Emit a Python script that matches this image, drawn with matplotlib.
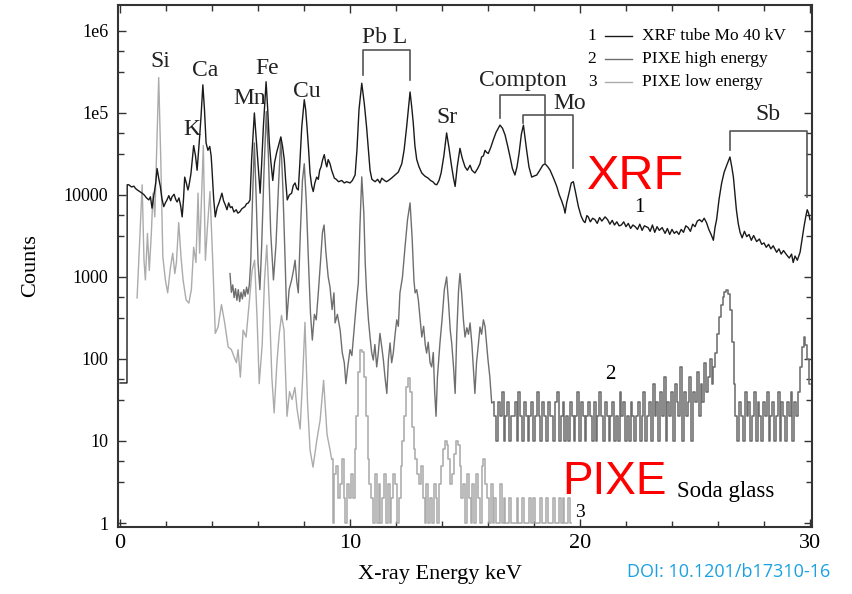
import matplotlib
matplotlib.use('Agg')
import matplotlib.pyplot as plt
import numpy as np
from matplotlib.ticker import FixedLocator, FixedFormatter

plt.rcParams['font.family'] = 'Liberation Serif'

# curve 1 : XRF tube Mo 40 kV (energy keV, counts)
xrf_kev = [0.00, 0.30, 0.31, 0.38, 0.50, 0.60, 0.67, 0.75, 0.85, 0.96, 1.05, 1.15, 1.25, 1.32, 1.39,
           1.46, 1.55, 1.61, 1.68, 1.75, 1.82, 1.90, 1.97, 2.04, 2.12, 2.20, 2.26, 2.35, 2.42, 2.48,
           2.56, 2.63, 2.70, 2.76, 2.81, 2.88, 2.95, 2.99, 3.08, 3.20, 3.28, 3.35, 3.45, 3.52, 3.60,
           3.67, 3.74, 3.82, 3.90, 3.96, 4.00, 4.07, 4.14, 4.22, 4.30, 4.43, 4.50, 4.58, 4.65, 4.72,
           4.80, 4.87, 4.95, 5.05, 5.12, 5.20, 5.30, 5.43, 5.50, 5.58, 5.65, 5.72, 5.84, 5.93, 5.99,
           6.09, 6.16, 6.23, 6.35, 6.42, 6.49, 6.56, 6.64, 6.72, 6.81, 6.99, 7.06, 7.14, 7.20, 7.27,
           7.36, 7.46, 7.53, 7.61, 7.68, 7.75, 7.82, 7.90, 8.01, 8.07, 8.13, 8.20, 8.26, 8.33, 8.40,
           8.47, 8.55, 8.62, 8.68, 8.74, 8.81, 8.88, 8.95, 8.99, 9.05, 9.13, 9.20, 9.32, 9.40, 9.50,
           9.64, 9.75, 9.85, 10.00, 10.10, 10.22, 10.30, 10.39, 10.51, 10.62, 10.72, 10.80, 10.87, 10.95, 11.09,
           11.20, 11.30, 11.38, 11.50, 11.58, 11.67, 11.80, 11.96, 12.10, 12.25, 12.35, 12.46, 12.61, 12.68, 12.75,
           12.82, 12.90, 13.00, 13.12, 13.25, 13.40, 13.50, 13.60, 13.70, 13.77, 13.87, 13.96, 14.08, 14.20, 14.30,
           14.42, 14.50, 14.57, 14.66, 14.78, 14.88, 15.00, 15.10, 15.22, 15.30, 15.43, 15.55, 15.65, 15.72, 15.80,
           15.87, 15.94, 16.01, 16.12, 16.23, 16.35, 16.52, 16.63, 16.74, 16.85, 16.96, 17.06, 17.17, 17.26, 17.35,
           17.45, 17.54, 17.61, 17.68, 17.78, 17.90, 18.00, 18.12, 18.25, 18.38, 18.48, 18.60, 18.70, 18.85, 18.99,
           19.10, 19.20, 19.30, 19.35, 19.42, 19.52, 19.62, 19.71, 19.80, 19.93, 20.05, 20.15, 20.22, 20.30, 20.36,
           20.45, 20.55, 20.65, 20.75, 20.85, 20.95, 21.09, 21.20, 21.30, 21.40, 21.50, 21.60, 21.70, 21.80, 21.90,
           22.00, 22.10, 22.20, 22.30, 22.40, 22.50, 22.60, 22.70, 22.80, 22.96, 23.05, 23.15, 23.25, 23.35, 23.45,
           23.57, 23.70, 23.80, 23.90, 24.00, 24.10, 24.20, 24.30, 24.40, 24.50, 24.60, 24.70, 24.80, 24.90, 25.00,
           25.10, 25.20, 25.30, 25.40, 25.50, 25.60, 25.70, 25.80, 25.87, 25.94, 26.05, 26.16, 26.27, 26.38, 26.52,
           26.60, 26.67, 26.74, 26.80, 26.88, 26.96, 27.05, 27.15, 27.25, 27.35, 27.45, 27.55, 27.68, 27.80, 27.90,
           28.00, 28.10, 28.20, 28.30, 28.40, 28.55, 28.65, 28.75, 28.85, 28.99, 29.10, 29.20, 29.27, 29.35, 29.45,
           29.57, 29.65, 29.74, 29.82, 29.88, 29.94, 30.00]
xrf_counts = [51, 51, 13300, 13300, 12500, 12800, 12000, 11500, 11000, 10500, 10000, 9200, 8700, 9500, 6900,
              9500, 14000, 21000, 16000, 12700, 9000, 7200, 8000, 8700, 9800, 8500, 9500, 10200, 8800, 8200,
              9200, 7500, 5400, 9000, 16500, 14000, 11500, 12700, 18000, 40000, 30000, 20000, 47000, 90000, 220000,
              110000, 43000, 35000, 39000, 30000, 20000, 9000, 5400, 7000, 8000, 10500, 8500, 7500, 6600, 8000,
              7000, 7200, 6200, 6600, 6000, 6200, 6800, 7200, 7800, 8000, 8700, 27000, 100000, 45000, 27000,
              10500, 25000, 67000, 240000, 110000, 43000, 25000, 15000, 25000, 33000, 51000, 40000, 27000, 15000, 8700,
              10000, 10500, 13000, 14000, 12000, 11500, 25000, 67000, 145000, 110000, 67000, 35000, 18500, 13000, 11000,
              14000, 16500, 15500, 20000, 22000, 27000, 31000, 24000, 22000, 27000, 24000, 20000, 16000, 15500, 14500,
              15000, 14000, 14500, 14000, 15000, 17500, 35000, 110000, 230000, 130000, 67000, 35000, 20000, 15500, 14500,
              15500, 14000, 16000, 15000, 14500, 15000, 16000, 17500, 19000, 24000, 35000, 67000, 180000, 120000, 75000,
              40000, 27000, 22000, 18500, 17000, 16000, 15000, 14500, 13500, 13300, 15000, 18500, 30000, 57000, 38000,
              22000, 16000, 12700, 22000, 37000, 28000, 22000, 20000, 23000, 20000, 18500, 21000, 24000, 29000, 30000,
              35000, 33000, 32000, 38000, 47000, 58000, 71000, 65000, 54000, 40000, 29000, 21000, 17500, 22000, 32000,
              55000, 71000, 50000, 35000, 22000, 16500, 17000, 17500, 20000, 23000, 24000, 22000, 20000, 16000, 12700,
              10000, 8500, 7000, 6000, 8000, 10500, 14000, 14500, 11000, 7200, 5500, 4800, 4600, 5600, 5400,
              4700, 5200, 5000, 4500, 5300, 4800, 5400, 5000, 4400, 4900, 4300, 4700, 4200, 4300, 4700,
              4100, 4500, 3900, 4300, 4100, 3800, 4400, 3700, 4200, 4000, 3600, 4300, 3500, 4100, 3700,
              4000, 3400, 3900, 3300, 3800, 3400, 3600, 3300, 3800, 3500, 4200, 4000, 3600, 4400, 4100,
              4800, 5000, 4700, 5200, 4600, 3800, 3300, 2800, 4000, 5000, 9000, 14000, 19000, 23000, 29000,
              22000, 16500, 10000, 6600, 4500, 3500, 3000, 3600, 3100, 3300, 2800, 3200, 2700, 2900, 2500,
              2600, 2300, 2500, 2200, 2400, 2000, 2200, 1900, 2100, 1850, 1700, 1900, 1500, 1800, 1600,
              2000, 2800, 4100, 5500, 6600, 6000, 5000]

# curve 2 : PIXE high energy, peak region (keV, counts)
pixe_hi_kev = [4.78, 4.84, 4.90, 4.96, 5.02, 5.08, 5.14, 5.20, 5.26, 5.32, 5.38, 5.44, 5.50, 5.56, 5.62,
               5.68, 5.76, 5.84, 5.92, 6.00, 6.08, 6.16, 6.26, 6.36, 6.45, 6.55, 6.67, 6.78, 6.90, 6.99,
               7.08, 7.18, 7.25, 7.35, 7.46, 7.54, 7.61, 7.68, 7.75, 7.84, 7.93, 8.01, 8.10, 8.19, 8.28,
               8.36, 8.45, 8.53, 8.62, 8.72, 8.80, 8.87, 8.95, 9.05, 9.13, 9.22, 9.30, 9.35, 9.45, 9.57,
               9.66, 9.75, 9.82, 9.90, 10.00, 10.08, 10.16, 10.28, 10.36, 10.43, 10.51, 10.60, 10.66, 10.72, 10.80,
               10.87, 10.94, 11.01, 11.08, 11.16, 11.23, 11.30, 11.38, 11.45, 11.52, 11.60, 11.67, 11.74, 11.81, 11.88,
               11.96, 12.03, 12.10, 12.17, 12.28, 12.39, 12.50, 12.61, 12.70, 12.78, 12.83, 12.90, 12.97, 13.05, 13.12,
               13.20, 13.27, 13.33, 13.40, 13.48, 13.55, 13.62, 13.68, 13.74, 13.80, 13.86, 13.91, 14.00, 14.10, 14.20,
               14.28, 14.36, 14.42, 14.50, 14.57, 14.64, 14.72, 14.78, 14.86, 14.93, 15.00, 15.08, 15.15, 15.22, 15.30,
               15.36, 15.43, 15.50, 15.58, 15.65, 15.72, 15.80, 15.87, 15.94, 16.00, 16.08, 16.16]
pixe_hi_counts = [1100, 650, 800, 560, 720, 520, 700, 500, 650, 540, 700, 580, 750, 620, 800,
                  1500, 9000, 43000, 9000, 1500, 700, 2500, 20000, 104000, 30000, 3500, 920, 2500, 15000, 49000,
                  12000, 1500, 300, 700, 920, 1200, 1600, 900, 640, 3500, 15000, 24000, 8000, 1600, 360,
                  170, 350, 300, 640, 1600, 3500, 4300, 2000, 1000, 750, 400, 640, 275, 350, 225,
                  120, 90, 50, 80, 130, 110, 200, 500, 840, 4100, 16600, 6000, 1500, 640, 300,
                  185, 120, 97, 150, 80, 120, 205, 140, 97, 60, 38, 100, 157, 90, 118,
                  200, 300, 250, 640, 1000, 2300, 5000, 8000, 3000, 900, 640, 700, 525, 300, 185,
                  250, 150, 118, 160, 90, 80, 120, 40, 20, 60, 100, 157, 300, 700, 1000,
                  500, 220, 157, 80, 38, 200, 700, 1100, 600, 300, 185, 240, 200, 275, 150,
                  80, 38, 90, 150, 245, 200, 300, 250, 150, 97, 60, 29]
# curve 2 : channels of 0.08 keV from 16.24 to 30.0 keV
pixe_hi_chan = [30, 20, 10, 30, 20, 40, 10, 20, 30, 10, 20, 20, 30, 10, 40, 20, 10, 30, 20, 10,
                20, 30, 10, 20, 40, 20, 10, 30, 20, 10, 30, 20, 20, 10, 30, 40, 10, 20, 30, 10,
                20, 10, 30, 20, 10, 20, 40, 10, 30, 20, 10, 20, 30, 20, 10, 30, 10, 20, 40, 20,
                10, 30, 20, 10, 20, 30, 10, 20, 10, 40, 20, 30, 10, 20, 10, 30, 20, 10, 20, 30,
                10, 20, 40, 10, 20,
                30, 10, 50, 20, 30, 10, 40, 20, 60, 10, 30, 20, 40, 10, 50, 30, 20, 80, 10, 40,
                20, 30, 60, 10, 40, 30, 70, 20, 50, 30, 90, 40, 60, 100, 50, 80,
                118, 200, 325, 450, 570, 650, 700, 620, 400, 160, 50, 20,
                10, 30, 20, 10, 40, 20, 30, 10, 20, 40, 10, 30, 20, 10, 30, 20, 40, 10, 20, 30,
                10, 20, 40, 10, 30, 20, 10, 30, 20, 40, 10, 30, 20,
                40, 80, 140, 185, 150, 100, 50]

# curve 3 : PIXE low energy, peak region (keV, counts)
pixe_lo_kev = [0.74, 0.84, 0.96, 1.04, 1.10, 1.19, 1.27, 1.36, 1.43, 1.51, 1.58, 1.68, 1.77, 1.86, 1.97,
               2.07, 2.19, 2.29, 2.38, 2.45, 2.55, 2.65, 2.74, 2.87, 2.99, 3.10, 3.20, 3.30, 3.39, 3.46,
               3.54, 3.62, 3.71, 3.80, 3.91, 4.04, 4.14, 4.26, 4.41, 4.55, 4.70, 4.84, 4.96, 5.06, 5.13,
               5.23, 5.35, 5.48, 5.62, 5.74, 5.85, 5.96, 6.05, 6.18, 6.28, 6.38, 6.50, 6.60, 6.70, 6.82,
               6.92, 7.02, 7.13, 7.26, 7.37, 7.48, 7.60, 7.70, 7.83, 7.94, 8.04, 8.15, 8.26, 8.39, 8.55,
               8.70, 8.85, 9.00, 9.13]
pixe_lo_counts = [555, 2300, 13300, 1600, 920, 3400, 1200, 3400, 10500, 5400, 27000, 270000, 27000, 1750, 920,
                  640, 1300, 1950, 1100, 1500, 4600, 1750, 920, 525, 480, 700, 2300, 1500, 10500, 1950,
                  9000, 40000, 1600, 4100, 11000, 1300, 205, 245, 460, 275, 140, 130, 106, 90, 130,
                  60, 225, 185, 500, 1200, 1600, 300, 50, 150, 900, 2450, 400, 60, 22, 90,
                  200, 340, 225, 20, 40, 32, 45, 24, 14, 60, 280, 30, 7.8, 4.8, 10,
                  18, 55, 12, 7.8]
# curve 3 : channels of 0.08 keV from 9.2 to 19.6 keV
pixe_lo_chan = [6, 1, 4, 5, 2, 3, 6, 2, 1, 3, 2, 4, 2,
                8, 20, 70, 130, 120, 60, 20, 6, 3,
                2, 1, 4, 1, 3, 1, 2, 4, 1, 3, 1, 2, 4, 3, 1, 2,
                5, 10, 20, 45, 58, 40, 15, 8, 6, 4,
                3, 5, 2, 1, 3, 1, 2, 1, 3, 2, 1,
                3, 5, 8, 10, 9, 6, 3, 4, 7, 10, 9, 5, 2,
                3, 1, 4, 2, 1, 3, 1, 4, 2, 1,
                5, 6, 3, 2, 1, 3, 1, 2, 1, 1, 3, 1, 2, 1, 1, 2, 1, 1, 1, 2,
                1, 1, 2, 1, 1, 1, 2, 1, 2, 1, 1, 1, 2, 1, 1, 2, 1, 1, 1, 2,
                1, 1, 2, 1, 2, 1, 1, 2, 1]

legend_labels = ['XRF tube Mo 40 kV', 'PIXE high energy', 'PIXE low energy']
colors = ['#1a1a1a', '#6e6e6e', '#ababab']

# element labels (text, keV, counts)
peak_labels = [('Si', 1.74, 4.2e5), ('Ca', 3.70, 3.3e5), ('K', 3.13, 6.2e4), ('Mn', 5.65, 1.5e5),
               ('Fe', 6.39, 3.5e5), ('Cu', 8.13, 1.8e5), ('Pb L', 11.52, 8.4e5), ('Sr', 14.22, 8.7e4),
               ('Compton', 17.52, 2.5e5), ('Mo', 19.57, 1.29e5), ('Sb', 28.17, 9.5e4)]
# brackets: left keV, right keV, top, left foot, right foot
brackets = [(10.55, 12.61, 5.9e5, 2.9e5, 2.5e5),
            (16.52, 18.48, 1.66e5, 8.7e4, 2.46e4),
            (17.51, 19.71, 9.5e4, 7.5e4, 2.13e4),
            (26.52, 29.87, 6.0e4, 3.5e4, 9.5e3)]

fig = plt.figure(figsize=(8.52, 5.94), dpi=100)
ax = fig.add_axes([0.1385, 0.1128, 0.8146, 0.8788])

lo_e = np.linspace(9.2, 19.6, len(pixe_lo_chan))
hi_e = np.linspace(16.24, 30.0, len(pixe_hi_chan))

# curve 3
ax.plot(pixe_lo_kev + [lo_e[0]], pixe_lo_counts + [pixe_lo_chan[0]], color=colors[2], lw=1.0)
ax.step(lo_e, pixe_lo_chan, where='mid', color=colors[2], lw=1.15)
# curve 2
ax.plot(pixe_hi_kev + [hi_e[0]], pixe_hi_counts + [pixe_hi_chan[0]], color=colors[1], lw=1.0)
ax.step(hi_e, pixe_hi_chan, where='mid', color=colors[1], lw=1.15)
# curve 1
ax.plot(xrf_kev, xrf_counts, color=colors[0], lw=1.0)

ax.set_yscale('log')
ax.set_xlim(-0.09, 30.09)
ax.set_ylim(0.894, 2.07e6)

ax.xaxis.set_major_locator(FixedLocator([0, 10, 20, 30]))
ax.xaxis.set_minor_locator(FixedLocator(np.arange(2, 30, 2)))
ax.yaxis.set_major_locator(FixedLocator([1, 10, 100, 1000, 10000, 1e5, 1e6]))
ax.yaxis.set_major_formatter(FixedFormatter(['1', '10', '100', '1000', '10000', '1e5', '1e6']))
minor_y = []
for n in range(1, 7):
    minor_y += [10 ** (n - 0.25), 10 ** (n - 0.5)]
ax.yaxis.set_minor_locator(FixedLocator(minor_y))
ax.yaxis.set_minor_formatter(FixedFormatter([''] * len(minor_y)))

ax.tick_params(which='both', direction='in', top=True, right=True, width=1.0, color='#333333')
ax.tick_params(which='major', length=6)
ax.tick_params(which='minor', length=4)
ax.tick_params(axis='x', labelsize=16, pad=5)
ax.tick_params(axis='y', labelsize=13, pad=7)
for s in ax.spines.values():
    s.set_linewidth(1.5)
    s.set_color('#333333')

ax.set_xlabel('X-ray Energy keV', fontsize=16)
ax.xaxis.set_label_coords(0.464, -0.072)
ax.set_ylabel('Counts', fontsize=16)
ax.yaxis.set_label_coords(-0.112, 0.50)

for txt, x, y in peak_labels:
    ax.text(x, y, txt, fontsize=17, ha='center', va='center', color='#222222')
for x0, x1, top, f0, f1 in brackets:
    ax.plot([x0, x0, x1, x1], [f0, top, top, f1], color='#555555', lw=1.2)

# legend drawn by hand: number, line, label
for i, (lab, c) in enumerate(zip(legend_labels, colors)):
    yy = 0.940 - 0.044 * i
    ax.text(0.683, yy, str(i + 1), transform=ax.transAxes, fontsize=12.5, ha='center', va='center')
    ax.plot([0.702, 0.741], [yy, yy], transform=ax.transAxes, color=c, lw=1.0)
    ax.text(0.755, yy, lab, transform=ax.transAxes, fontsize=12.5, ha='left', va='center')

ax.text(22.43, 1.66e4, 'XRF', color='red', fontsize=35, family='Liberation Sans', ha='center', va='center')
ax.text(21.52, 3.2, 'PIXE', color='red', fontsize=33, family='Liberation Sans', ha='center', va='center')
ax.text(24.2, 2.39, 'Soda glass', fontsize=16.5, ha='left', va='center')
ax.text(22.6, 7.1e3, '1', fontsize=15, ha='center', va='center')
ax.text(21.3, 64, '2', fontsize=15, ha='center', va='center')
ax.text(20.0, 1.33, '3', fontsize=14, ha='center', va='center')

fig.text(0.974, 0.037, 'DOI: 10.1201/b17310-16', color='#1ba1e2', fontsize=13,
         family='Open Sans', ha='right', va='center')

fig.savefig('out.png', dpi=100)
